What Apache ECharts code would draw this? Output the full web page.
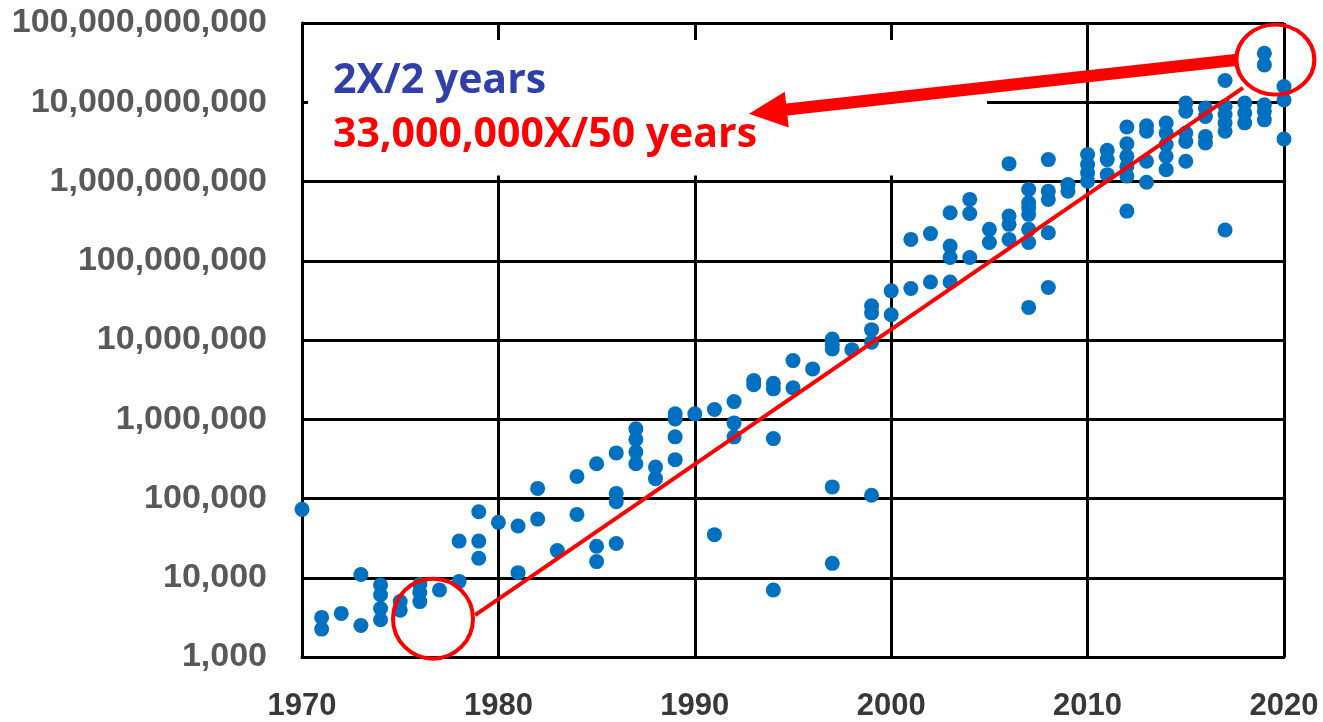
<!DOCTYPE html>
<html>
<head>
<meta charset="utf-8">
<script src="https://cdn.jsdelivr.net/npm/echarts@6/dist/echarts.min.js"></script>
<style>
  html, body { margin: 0; padding: 0; background: #ffffff; }
  #chart { width: 1323px; height: 722px; }
</style>
</head>
<body>
<div id="chart"></div>
<script>
// Transistor counts per chip, grouped by year of introduction
const yearGroups = [
  1970, 1971, 1972, 1973, 1974, 1975, 1976, 1977, 1978, 1979,
  1980, 1981, 1982, 1983, 1984, 1985, 1986, 1987, 1988, 1989,
  1990, 1991, 1992, 1993, 1994, 1995, 1996, 1997, 1998, 1999,
  2000, 2001, 2002, 2003, 2004, 2005, 2006, 2007, 2008, 2009,
  2010, 2011, 2012, 2013, 2014, 2015, 2016, 2017, 2018, 2019, 2020
];
const countsByYear = [
  [73000],
  [3160, 2250],
  [3550],
  [11000, 2500],
  [8100, 6100, 4100, 2950],
  [5000, 3900],
  [8200, 6500, 5000],
  [7000],
  [29000, 9000],
  [68000, 29000, 17600],
  [50000],
  [45000, 11600],
  [134000, 55000],
  [22000],
  [190000, 63000],
  [275000, 25000, 16000],
  [376000, 116000, 91000, 27000],
  [760000, 557000, 386000, 275000],
  [250000, 178000],
  [1170000, 1010000, 600000, 309000],
  [1170000],
  [1330000, 35000],
  [1670000, 900000, 600000],
  [3080000, 2720000],
  [2850000, 2420000, 570000, 7000],
  [5500000, 2490000],
  [4320000],
  [10300000, 8800000, 7700000, 140000, 15200],
  [7550000],
  [27000000, 22000000, 13500000, 9350000, 110000],
  [41700000, 20800000],
  [186000000, 44600000],
  [220000000, 54000000],
  [404000000, 153000000, 110000000, 54000000],
  [594000000, 395000000, 110000000],
  [249000000, 170000000],
  [1680000000, 366000000, 288000000, 186000000],
  [793000000, 540000000, 467000000, 385000000, 249000000, 170000000, 25800000],
  [1890000000, 755000000, 594000000, 226000000, 46000000],
  [917000000, 755000000],
  [2190000000, 1640000000, 1290000000, 1010000000],
  [2480000000, 1890000000, 1220000000],
  [4880000000, 3000000000, 2080000000, 1550000000, 1170000000, 423000000],
  [5060000000, 4300000000, 1800000000, 980000000],
  [5470000000, 4100000000, 2920000000, 2080000000, 1410000000],
  [9800000000, 7700000000, 4100000000, 3200000000, 1800000000],
  [8450000000, 6600000000, 3710000000, 3070000000],
  [18800000000, 8900000000, 7000000000, 5500000000, 4300000000, 244000000],
  [9800000000, 7300000000, 5500000000],
  [41600000000, 29600000000, 9300000000, 7700000000, 6000000000],
  [15800000000, 10700000000, 3440000000]
];

// Axis ranges and tick labels
const xTicks = [1970, 1980, 1990, 2000, 2010, 2020];
const yMin = 1000;
const yMax = 100000000000;

// Trend line and the two highlighted ends (year, count)
const trendLine = [[1978.81, 3370], [2017.91, 15200000000]];
const highlightCircles = [[1976.67, 3045], [2019.56, 34500000000]];
const arrowTail = [2017.64, 34300000000];
const arrowTip = [1992.76, 7160000000];

// Annotation panel (data-space corners) and its text lines
const panelCorners = [[1970.31, 61000000000], [2004.88, 1190000000]];
const rateLabels = ['2X/2 years', '33,000,000X/50 years'];

const points = [];
yearGroups.forEach((y, i) => countsByYear[i].forEach(v => points.push([y, v])));

const chart = echarts.init(document.getElementById('chart'), null, { renderer: 'canvas' });

const numFmt = v => Math.round(v).toString().replace(/\B(?=(\d{3})+(?!\d))/g, ',');

chart.setOption({
  animation: false,
  backgroundColor: '#ffffff',
  grid: { left: 302, right: 39, top: 23, bottom: 63 },
  xAxis: {
    type: 'value',
    min: xTicks[0],
    max: xTicks[xTicks.length - 1],
    interval: 10,
    axisLine: { show: true, lineStyle: { color: '#000', width: 3 } },
    axisTick: { show: false },
    splitLine: { show: true, showMinLine: true, showMaxLine: true, lineStyle: { color: '#000', width: 3 } },
    axisLabel: {
      margin: 34,
      color: '#383838',
      fontFamily: 'Liberation Sans',
      fontWeight: 'bold',
      fontSize: 31,
      formatter: v => String(Math.round(v))
    }
  },
  yAxis: {
    type: 'log',
    logBase: 10,
    min: yMin,
    max: yMax,
    splitNumber: 8,
    axisLine: { show: true, lineStyle: { color: '#000', width: 3 } },
    axisTick: { show: false },
    splitLine: { show: true, showMinLine: true, showMaxLine: true, lineStyle: { color: '#000', width: 3 } },
    axisLabel: {
      margin: 35,
      color: '#595959',
      fontFamily: 'Liberation Sans',
      fontWeight: 'bold',
      fontSize: 34,
      formatter: numFmt
    }
  },
  series: [
    {
      type: 'scatter',
      data: points,
      symbol: 'circle',
      symbolSize: 15,
      itemStyle: { color: '#0070C0', opacity: 1 },
      silent: true,
      clip: false,
      z: 3
    },
    {
      type: 'line',
      data: trendLine,
      showSymbol: false,
      lineStyle: { color: '#FF0000', width: 4 },
      silent: true,
      z: 4
    },
    {
      type: 'scatter',
      data: highlightCircles,
      symbol: 'circle',
      symbolSize: (val, p) => (p.dataIndex === 0 ? [80, 80] : [78, 70]),
      itemStyle: { color: 'rgba(0,0,0,0)', borderColor: '#FF0000', borderWidth: 4, opacity: 1 },
      silent: true,
      clip: false,
      z: 5
    }
  ]
});

// Annotation layer: white panel, arrow and rate labels
const px = p => chart.convertToPixel({ gridIndex: 0 }, p);
const c0 = px(panelCorners[0]);
const c1 = px(panelCorners[1]);
const tail = px(arrowTail);
const tip = px(arrowTip);
const dx = tail[0] - tip[0], dy = tail[1] - tip[1];
const len = Math.hypot(dx, dy);
const ux = dx / len, uy = dy / len;
const headLen = 38, headHalf = 18;
const base = [tip[0] + ux * headLen, tip[1] + uy * headLen];
const nx = -uy, ny = ux;

chart.setOption({
  graphic: [
    {
      type: 'rect',
      z: 1,
      silent: true,
      shape: { x: c0[0], y: c0[1], width: c1[0] - c0[0], height: c1[1] - c0[1] },
      style: { fill: '#ffffff' }
    },
    {
      type: 'line',
      z: 10,
      silent: true,
      shape: { x1: tail[0], y1: tail[1], x2: base[0] - ux * 2, y2: base[1] - uy * 2 },
      style: { stroke: '#FF0000', lineWidth: 12 }
    },
    {
      type: 'polygon',
      z: 10,
      silent: true,
      shape: {
        points: [
          tip,
          [base[0] + nx * headHalf, base[1] + ny * headHalf],
          [base[0] - nx * headHalf, base[1] - ny * headHalf]
        ]
      },
      style: { fill: '#FF0000' }
    },
    {
      type: 'text',
      z: 10,
      silent: true,
      x: 333,
      y: 81,
      style: {
        text: rateLabels[0],
        fill: '#3040A8',
        font: 'bold 41px "Open Sans"',
        verticalAlign: 'middle',
        align: 'left'
      }
    },
    {
      type: 'text',
      z: 10,
      silent: true,
      x: 333,
      y: 135,
      style: {
        text: rateLabels[1],
        fill: '#FF0000',
        font: 'bold 41px "Open Sans"',
        verticalAlign: 'middle',
        align: 'left'
      }
    }
  ]
});
</script>
</body>
</html>
